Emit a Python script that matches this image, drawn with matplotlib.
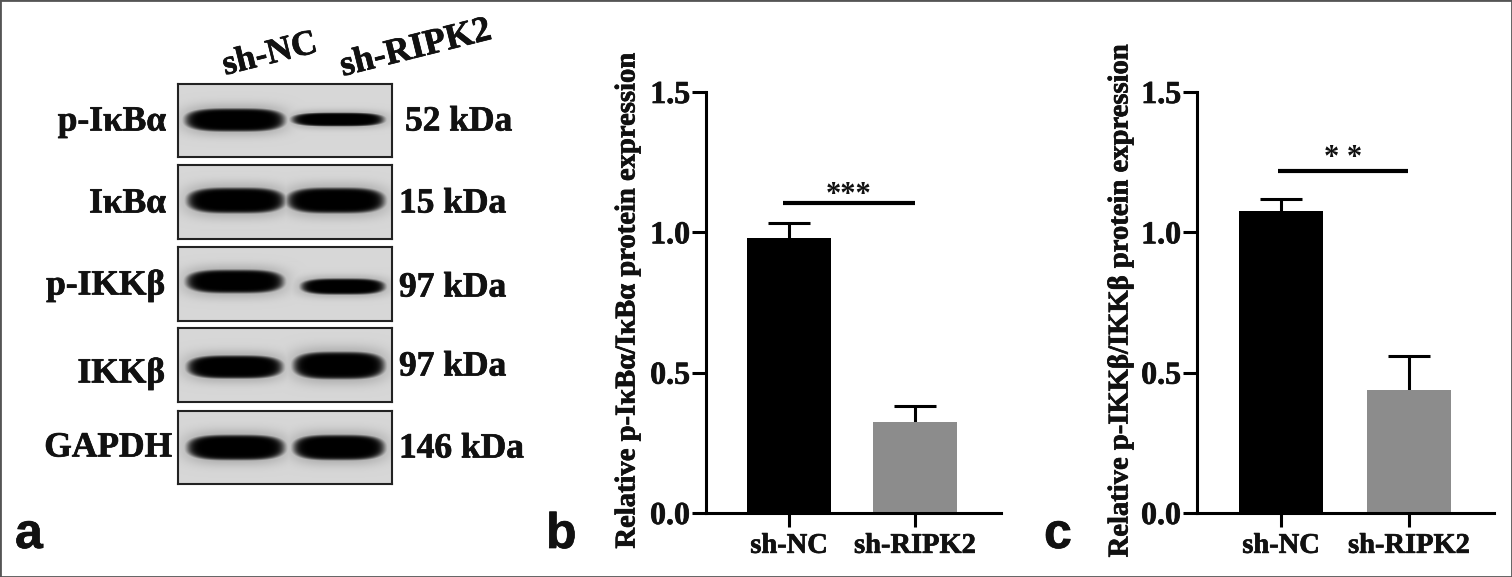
import matplotlib

matplotlib.use("Agg")
import matplotlib.patheffects as pe
import matplotlib.pyplot as plt
import numpy as np
from matplotlib.patches import Rectangle

W, H = 1512, 577

# western blot, one row per protein
blot_names = ["p-IκBα", "IκBα", "p-IKKβ", "IKKβ", "GAPDH"]
blot_sizes = ["52 kDa", "15 kDa", "97 kDa", "97 kDa", "146 kDa"]
blot_tops = [84, 165, 247, 328, 411]
blot_bottoms = [157, 239, 321, 402, 484]
# band centre x, half width, centre y, half height, all in reference pixels
lane1_bands = [(235, 48, 120, 11), (236, 47, 201, 12), (235, 47, 282, 11), (235, 46, 367, 11), (236, 47, 447.5, 12)]
lane2_bands = [(338, 44.5, 119.5, 6.5), (336, 47, 201, 12), (343, 40.5, 287, 7.5), (339, 44, 365.5, 13), (339, 44, 447.5, 12)]

groups = ["sh-NC", "sh-RIPK2"]
ticks = [0.0, 0.5, 1.0, 1.5]

b_means = [0.98, 0.325]
b_tops = [1.035, 0.38]
b_label = "Relative p-IκBα/IκBα protein expression"
b_sig = "***"
b_sig_y = 1.104

c_means = [1.075, 0.44]
c_tops = [1.12, 0.56]
c_label = "Relative p-IKKβ/IKKβ protein expression"
c_sig = "* *"
c_sig_y = 1.218

SERIF = "Liberation Serif"
SANS = "Liberation Sans"
HEAVY = [pe.withStroke(linewidth=0.5, foreground="#111111")]


def px_axes(fig, left, right, top, bottom):
    return fig.add_axes([left / W, 1 - bottom / H, (right - left) / W, (bottom - top) / H])


def fig_text(fig, x, y, s, **kw):
    kw.setdefault("family", SERIF)
    kw.setdefault("fontweight", "bold")
    kw.setdefault("color", "#111111")
    kw.setdefault("va", "center")
    kw.setdefault("path_effects", HEAVY)
    fig.text(x / W, 1 - y / H, s, **kw)


def draw_blot(fig, top, bottom, bands):
    left, right = 178, 392
    ax = px_axes(fig, left, right, top, bottom)
    xs, ys = np.meshgrid(np.arange(left, right) + 0.5, np.arange(top, bottom) + 0.5)
    dark = np.zeros_like(xs)
    for cx, hw, cy, hh in bands:
        d = np.abs((xs - cx) / hw) ** 3.5 + np.abs((ys - cy) / hh) ** 2.5
        halo = np.abs((xs - cx) / (hw + 6)) ** 3.5 + np.abs((ys - cy) / (hh * 1.5)) ** 2.5
        dark = np.maximum(dark, np.maximum(np.exp(-((d / 1.15) ** 4)), 0.22 * np.exp(-halo**1.5)))
    img = 0.84 - 0.84 * dark
    ax.imshow(img, cmap="gray", vmin=0, vmax=1, aspect="auto", interpolation="bilinear")
    ax.set_xticks([])
    ax.set_yticks([])
    for sp in ax.spines.values():
        sp.set_linewidth(1.5)
        sp.set_color("#222222")


def draw_bars(fig, left, right, c1, c2, means, tops, label, sig, sig_y, sig_x, sig_text_y, label_x):
    ax = px_axes(fig, left, right, 92, 513)
    step = c2 - c1
    ax.set_xlim((left - c1) / step, (right - c1) / step)
    ax.set_ylim(0, 1.5)
    x = [0, 1]
    ax.bar(x, means, width=84 / step, color=["#000000", "#8c8c8c"], zorder=2)
    for xi, m, t in zip(x, means, tops):
        ax.plot([xi, xi], [m, t], color="black", lw=2.2, zorder=1, solid_capstyle="butt")
        ax.plot([xi - 0.165, xi + 0.165], [t, t], color="black", lw=2.2, solid_capstyle="butt")
    ax.plot([(sig_x[0] - c1) / step, (sig_x[1] - c1) / step], [sig_y, sig_y], color="black", lw=3, solid_capstyle="butt")
    ax.spines["top"].set_visible(False)
    ax.spines["right"].set_visible(False)
    ax.spines["left"].set_linewidth(2.2)
    ax.spines["bottom"].set_linewidth(2.2)
    ax.set_xticks(x)
    ax.set_xticklabels(groups, family=SERIF, fontweight="bold", fontsize=20.5, color="#111111", path_effects=HEAVY)
    ax.set_yticks(ticks)
    ax.set_yticklabels([f"{t:.1f}" for t in ticks], family=SERIF, fontweight="bold", fontsize=23, color="#111111", path_effects=HEAVY)
    ax.tick_params(axis="both", width=2.2, length=10)
    ax.tick_params(axis="y", pad=1.5)
    ax.tick_params(axis="x", pad=5)
    fig_text(fig, label_x, 301, label, rotation=90, ha="center", fontsize=20.6)
    fig_text(fig, (sig_x[0] + sig_x[1]) / 2, sig_text_y, sig, ha="center", fontsize=22, path_effects=[])


fig = plt.figure(figsize=(W / 100, H / 100), dpi=100, facecolor="white")

for i in range(5):
    draw_blot(fig, blot_tops[i], blot_bottoms[i], [lane1_bands[i], lane2_bands[i]])

name_right = [166, 166, 165, 165, 172]
name_y = [122, 204, 286, 374, 448]
size_x = [405, 399, 399, 399, 399]
size_y = [122, 204, 288, 367, 449]
for i in range(5):
    fig_text(fig, name_right[i], name_y[i], blot_names[i], ha="right", fontsize=25.5)
    fig_text(fig, size_x[i], size_y[i], blot_sizes[i], ha="left", fontsize=25.5)

fig_text(fig, 270, 55, groups[0], ha="center", fontsize=25.5, rotation=14, rotation_mode="anchor")
fig_text(fig, 416, 49, groups[1], ha="center", fontsize=26, rotation=14, rotation_mode="anchor")

draw_bars(fig, 706, 1001, 789, 915, b_means, b_tops, b_label, b_sig, b_sig_y, (783, 915), 195, 627)
draw_bars(fig, 1197, 1494, 1281, 1409, c_means, c_tops, c_label, c_sig, c_sig_y, (1278, 1408), 158, 1120)

fig_text(fig, 15, 535, "a", family=SANS, ha="left", fontsize=36)
fig_text(fig, 546, 535, "b", family=SANS, ha="left", fontsize=36)
fig_text(fig, 1044, 535, "c", family=SANS, ha="left", fontsize=36)

# grey frame round the whole figure
fig.add_artist(Rectangle((0, 0), 1, 1, transform=fig.transFigure, fill=False, edgecolor="#555555", lw=2))

fig.savefig("out.png", dpi=100)
